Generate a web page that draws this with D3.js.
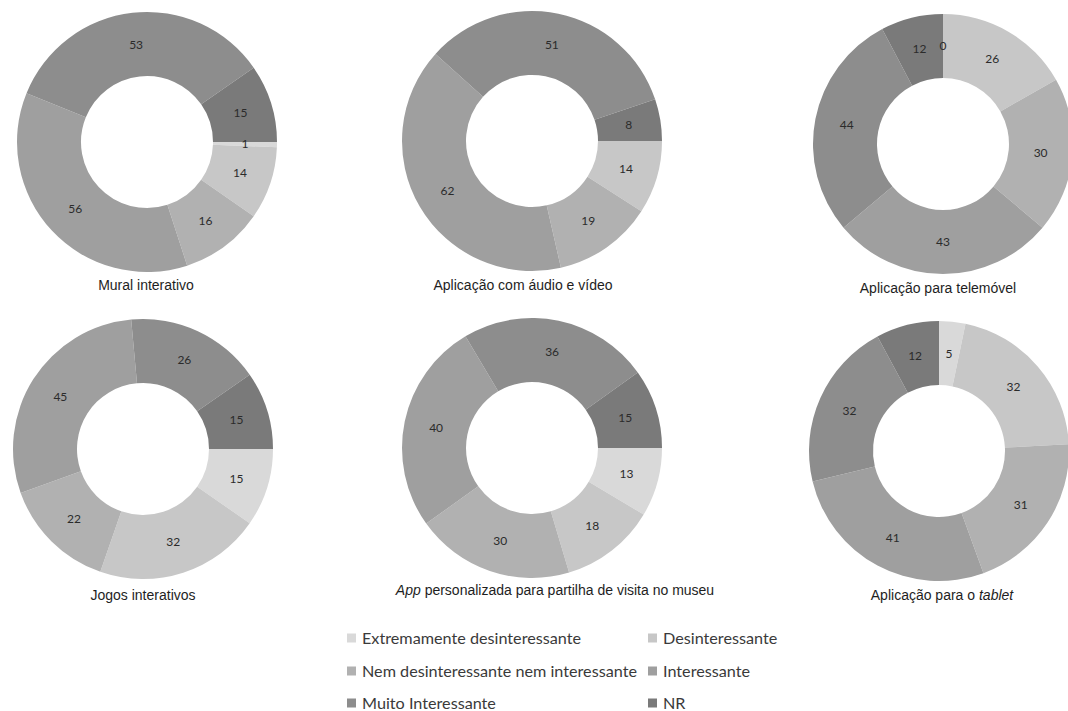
<!DOCTYPE html>
<html>
<head>
<meta charset="utf-8">
<script src="https://cdn.jsdelivr.net/npm/d3@7"></script>
<style>
  html, body { margin: 0; padding: 0; background: #fff; }
  svg { display: block; }
</style>
</head>
<body>
<svg id="chart" width="1068" height="711"></svg>
<script>
// Response categories (legend order)
const categories = [
  "Extremamente desinteressante",
  "Desinteressante",
  "Nem desinteressante nem interessante",
  "Interessante",
  "Muito Interessante",
  "NR"
];

// Counts per resource, in category order (null = category not present)
const muralInterativo   = [1, 14, 16, 56, 53, 15];
const audioVideo        = [null, 14, 19, 62, 51, 8];
const telemovel         = [0, 26, 30, 43, 44, 12];
const jogosInterativos  = [15, 32, 22, 45, 26, 15];
const appPersonalizada  = [13, 18, 30, 40, 36, 15];
const tablet            = [5, 32, 31, 41, 32, 12];

// Titles: arrays of [text, italic] parts
const titles = [
  [["Mural interativo", false]],
  [["Aplicação com áudio e vídeo", false]],
  [["Aplicação para telemóvel", false]],
  [["Jogos interativos", false]],
  [["App", true], [" personalizada para partilha de visita no museu", false]],
  [["Aplicação para o ", false], ["tablet", true]]
];

const seriesList = [muralInterativo, audioVideo, telemovel, jogosInterativos, appPersonalizada, tablet];

// Grey ramp from lightest to darkest
const colour = d3.scaleOrdinal()
  .domain(categories)
  .range(["#d9d9d9", "#c7c7c7", "#b1b1b1", "#9f9f9f", "#8d8d8d", "#7a7a7a"]);

// Panel layout: donut centre, start angle and title anchor
const panels = [
  { cx: 147, cy: 142, start: Math.PI / 2, tx: 146, ty: 290 },
  { cx: 532, cy: 141, start: Math.PI / 2, tx: 523, ty: 290 },
  { cx: 943, cy: 144, start: 0,           tx: 938, ty: 293 },
  { cx: 143, cy: 449, start: Math.PI / 2, tx: 143, ty: 600 },
  { cx: 532, cy: 448, start: Math.PI / 2, tx: 555, ty: 595 },
  { cx: 939, cy: 451, start: 0,           tx: 942, ty: 600 }
];

const outerR = 130, innerR = 66;
const svg = d3.select("#chart");

const arc = d3.arc().innerRadius(innerR).outerRadius(outerR);

seriesList.forEach((values, i) => {
  const p = panels[i];
  const rows = categories
    .map((c, k) => ({ category: c, value: values[k] }))
    .filter(d => d.value !== null);

  const pie = d3.pie()
    .value(d => d.value)
    .sort(null)
    .startAngle(p.start)
    .endAngle(p.start + 2 * Math.PI);

  const arcs = pie(rows);
  const g = svg.append("g").attr("transform", `translate(${p.cx},${p.cy})`);

  g.selectAll("path")
    .data(arcs)
    .join("path")
    .attr("d", arc)
    .attr("fill", d => colour(d.data.category));

  g.selectAll("text.val")
    .data(arcs)
    .join("text")
    .attr("class", "val")
    .attr("transform", d => `translate(${arc.centroid(d)})`)
    .attr("text-anchor", "middle")
    .attr("dy", "0.35em")
    .attr("font-family", "Lato, 'Open Sans', sans-serif")
    .attr("font-size", 12)
    .attr("fill", "#2b2b2b")
    .text(d => d.data.value);

  const t = svg.append("text")
    .attr("x", p.tx)
    .attr("y", p.ty)
    .attr("text-anchor", "middle")
    .attr("font-family", "'Liberation Sans', Arial, Helvetica, sans-serif")
    .attr("font-size", 14)
    .attr("fill", "#1e1e1e");
  titles[i].forEach(([txt, it]) => {
    t.append("tspan").attr("font-style", it ? "italic" : "normal").text(txt);
  });
});

// Legend: two columns, three rows
const legendX = [347, 648];
const legendY = [638, 671, 703];
const legend = svg.append("g");
categories.forEach((c, k) => {
  const x = legendX[k % 2], y = legendY[Math.floor(k / 2)];
  legend.append("rect")
    .attr("x", x).attr("y", y - 4.5)
    .attr("width", 9).attr("height", 9)
    .attr("fill", colour(c));
  legend.append("text")
    .attr("x", x + 15).attr("y", y)
    .attr("dy", "0.35em")
    .attr("font-family", "Lato, 'Open Sans', sans-serif")
    .attr("font-size", 16.2)
    .attr("fill", "#3a3a3a")
    .text(c);
});
</script>
</body>
</html>
